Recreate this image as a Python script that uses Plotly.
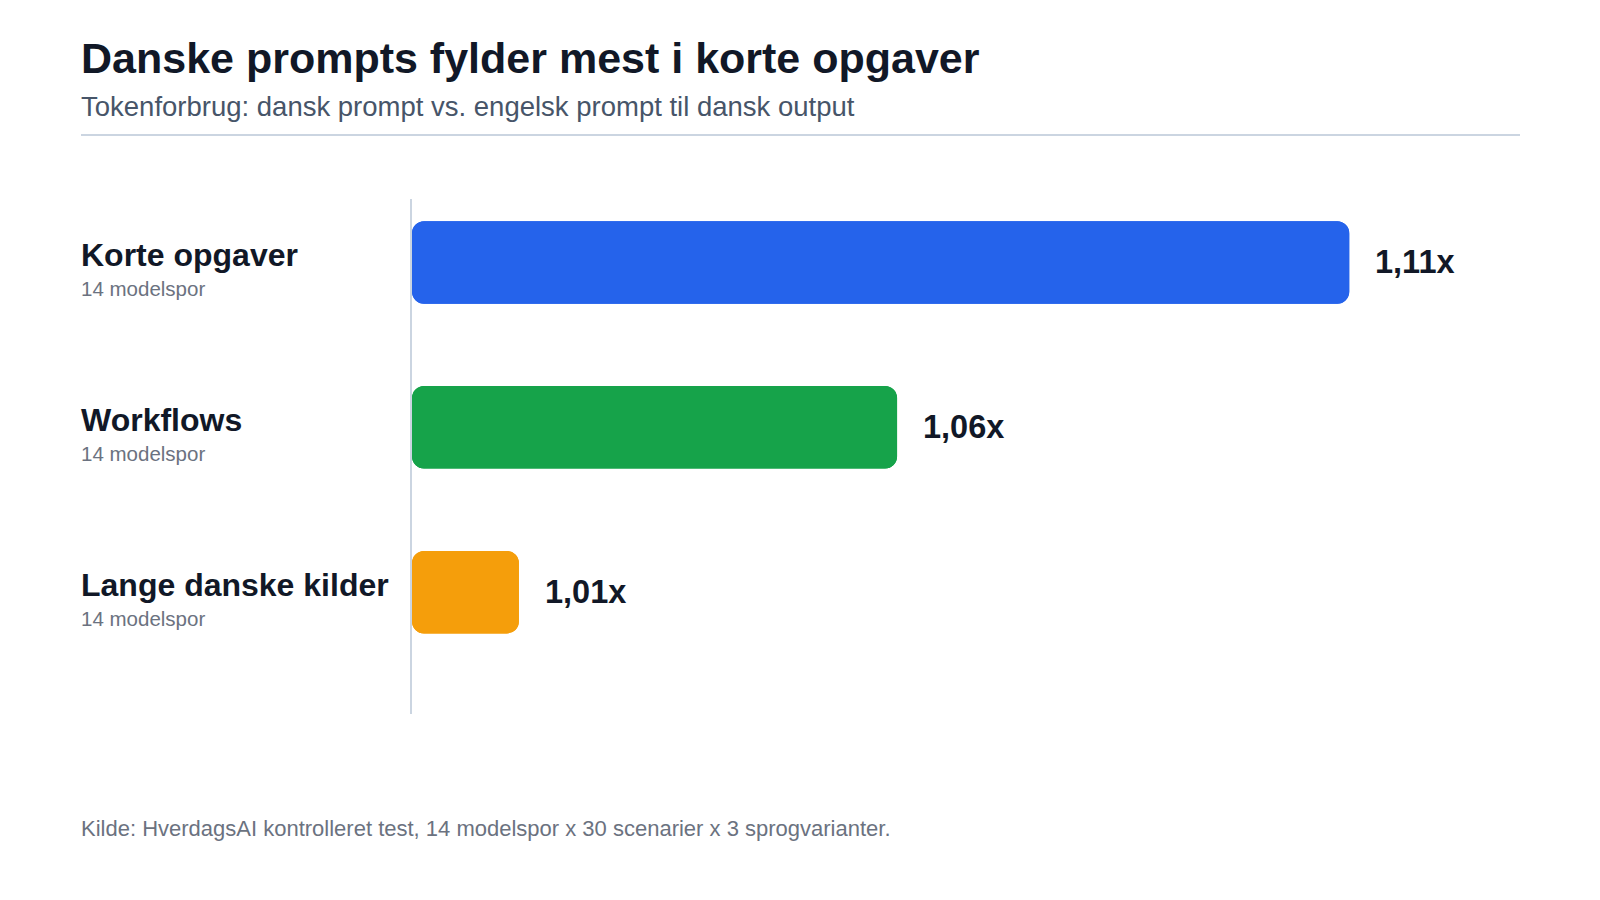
import plotly.graph_objects as go

categories = ["Korte opgaver", "Workflows", "Lange danske kilder"]
sublabels = ["14 modelspor", "14 modelspor", "14 modelspor"]
values = [1.114, 1.059, 1.013]
colors = ["#2563eb", "#16a34a", "#f59e0b"]
baseline = 1.0

title = "Danske prompts fylder mest i korte opgaver"
subtitle = "Tokenforbrug: dansk prompt vs. engelsk prompt til dansk output"
footer = "Kilde: HverdagsAI kontrolleret test, 14 modelspor x 30 scenarier x 3 sprogvarianter."

W, H = 1600, 900
L, R, T, B = 412, 37, 199, 186
PW, PH = W - L - R, H - T - B
FONT = "Liberation Sans, Arial, sans-serif"
TX = 79


def px(x):
    return (x - L) / PW


def py(y):
    return (H - B - y) / PH


fig = go.Figure()
# right-rounded part (base at baseline, tip at value)
fig.add_trace(go.Bar(
    y=categories, x=[v - baseline for v in values], base=[baseline] * len(values),
    orientation="h", marker=dict(color=colors, cornerradius=12, line=dict(width=0)),
    width=0.5, hoverinfo="skip", showlegend=False,
))
# left-rounded part (base at value, tip at baseline)
fig.add_trace(go.Bar(
    y=categories, x=[baseline - v for v in values], base=values,
    orientation="h", marker=dict(color=colors, cornerradius=12, line=dict(width=0)),
    width=0.5, hoverinfo="skip", showlegend=False,
))

annotations = []
for cat, sub, v in zip(categories, sublabels, values):
    annotations.append(dict(
        x=px(TX), xref="paper", y=cat, yref="y", xanchor="left", yanchor="middle",
        yshift=7, text="<b>%s</b>" % cat, showarrow=False,
        font=dict(family=FONT, size=32, color="#111827"),
    ))
    annotations.append(dict(
        x=px(TX), xref="paper", y=cat, yref="y", xanchor="left", yanchor="middle",
        yshift=-26, text=sub, showarrow=False,
        font=dict(family=FONT, size=20.5, color="#6b7280"),
    ))
    annotations.append(dict(
        x=v, xref="x", y=cat, yref="y", xanchor="left", yanchor="middle",
        xshift=24, text="<b>%s</b>" % (f"{v:.2f}".replace(".", ",") + "x"),
        showarrow=False, font=dict(family=FONT, size=32.5, color="#111827"),
    ))

annotations.append(dict(
    x=px(TX), xref="paper", y=py(58), yref="paper", xanchor="left", yanchor="middle",
    text="<b>%s</b>" % title, showarrow=False,
    font=dict(family=FONT, size=43, color="#111827"),
))
annotations.append(dict(
    x=px(TX), xref="paper", y=py(106), yref="paper", xanchor="left", yanchor="middle",
    text=subtitle, showarrow=False,
    font=dict(family=FONT, size=27.5, color="#475569"),
))
annotations.append(dict(
    x=px(TX), xref="paper", y=py(828), yref="paper", xanchor="left", yanchor="middle",
    text=footer, showarrow=False,
    font=dict(family=FONT, size=22, color="#6b7280"),
))

fig.update_layout(
    width=W, height=H,
    margin=dict(l=L, r=R, t=T, b=B, pad=0),
    paper_bgcolor="white", plot_bgcolor="white",
    barmode="overlay",
    annotations=annotations,
    shapes=[dict(type="line", xref="paper", yref="paper",
                 x0=px(81), x1=px(1520), y0=py(135), y1=py(135),
                 line=dict(color="#cbd5e1", width=2))],
    xaxis=dict(range=[baseline, 1.14], visible=False, fixedrange=True),
    yaxis=dict(categoryorder="array", categoryarray=categories,
               range=[2.739, -0.385], showticklabels=False, ticks="",
               showgrid=False, zeroline=False, showline=True,
               linecolor="#cbd5e1", linewidth=2, layer="below traces",
               fixedrange=True),
    font=dict(family=FONT),
)

fig.write_html("out.html")
